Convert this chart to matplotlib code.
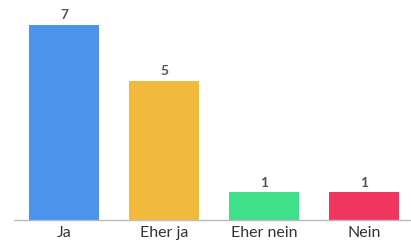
import matplotlib.pyplot as plt

# Daten
kategorien = ['Ja', 'Eher ja', 'Eher nein', 'Nein']
werte = [7, 5, 1, 1]
farben = ['#4A94EE', '#F2BA3C', '#3EE08A', '#F0365F']

fig = plt.figure(figsize=(4.11, 2.44), dpi=100)
ax = fig.add_axes([14 / 411, 24 / 244, 400 / 411, 220 / 244])

x = range(len(kategorien))
ax.bar(x, werte, width=0.7, color=farben)

# Werte ueber den Balken
for i, v in enumerate(werte):
    ax.text(i, v + 0.12, str(v), ha='center', va='bottom',
            fontsize=10, fontweight='bold', color='#555555', family='Lato')

ax.set_xlim(-0.5, 3.5)
ax.set_ylim(0, 7.89)
ax.set_xticks(list(x))
ax.set_xticklabels(kategorien, fontsize=11.5, color='#333333', family='Lato')
ax.tick_params(axis='x', length=0, pad=4.5)
ax.set_yticks([])

for s in ['top', 'right', 'left']:
    ax.spines[s].set_visible(False)
ax.spines['bottom'].set_color('#BBBBBB')
ax.spines['bottom'].set_linewidth(1)

fig.savefig('out.png', dpi=100)
